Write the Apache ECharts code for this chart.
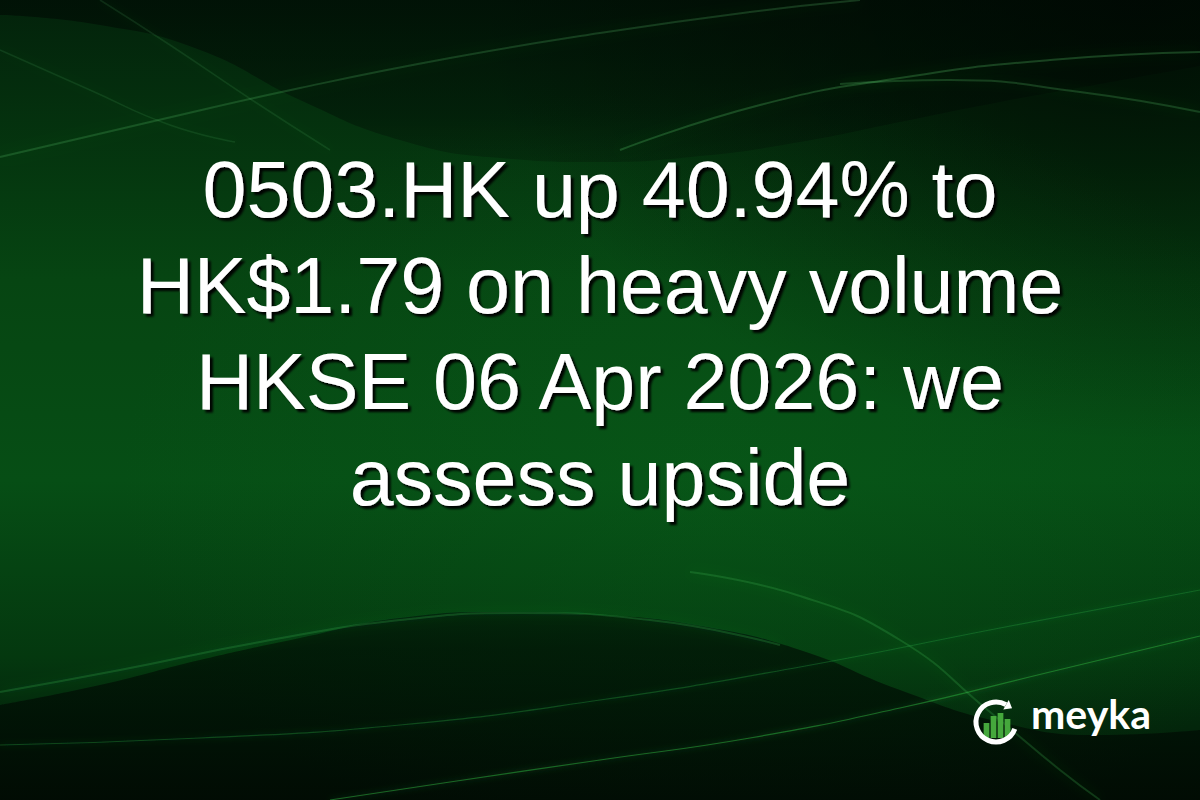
<!DOCTYPE html>
<html>
<head>
<meta charset="utf-8">
<script src="https://cdn.jsdelivr.net/npm/echarts@6/dist/echarts.min.js"></script>
<style>
  html, body { margin: 0; padding: 0; background: #021307; }
  #card { width: 1200px; height: 800px; }
</style>
</head>
<body>
<div id="card"></div>
<script>
// headline, one entry per printed line
const headline = [
  "0503.HK up 40.94% to",
  "HK$1.79 on heavy volume",
  "HKSE 06 Apr 2026: we",
  "assess upside"
];
const brand = "meyka";

// background waves (x in px, y in px from top)
const waveX = [0, 100, 200, 300, 400, 500, 600, 700, 800, 900, 1000, 1100, 1200];
const topShadeY = [15, 25, 50, 100, 140, 158, 162, 156, 142, 122, 102, 84, 66];
const bottomShadeY = [705, 685, 660, 638, 618, 612, 615, 626, 650, 690, 722, 735, 730];

const streakA = [[0, 157], [150, 122], [300, 88], [450, 58], [600, 33], [750, 12], [860, 0]];
const streakB = [[620, 150], [760, 105], [900, 78], [1050, 60], [1200, 52]];
const streakC = [[840, 84], [950, 80], [1080, 92], [1200, 112]];
const streakD = [[330, 800], [450, 782], [600, 760], [750, 738], [900, 708], [1050, 672], [1200, 636]];
const streakE = [[690, 572], [800, 596], [900, 640], [990, 712], [1060, 770], [1100, 800]];
const streakF = [[0, 692], [120, 670], [260, 642], [400, 620], [520, 613], [650, 620], [780, 645]];
const streakG = [[0, 745], [200, 738], [400, 725], [600, 700], [800, 667], [1000, 628], [1200, 590]];
const streakH = [[0, 50], [90, 90], [170, 125], [235, 142]];
const streakI = [[100, 0], [170, 45], [252, 100], [330, 150]];

// logo bars
const logoBars = [15, 22, 25, 19];

function zip(xs, ys) { return xs.map((x, i) => [x, ys[i]]); }

const chart = echarts.init(document.getElementById("card"), null, { renderer: "svg" });

function area(data, origin, color) {
  return {
    type: "line", smooth: 0.5, symbol: "none", silent: true, z: 1,
    data: data, lineStyle: { width: 0 },
    areaStyle: { origin: origin, color: color }
  };
}
function streak(data, color, width, blur) {
  return {
    type: "line", smooth: 0.5, symbol: "none", silent: true, z: 2,
    data: data,
    lineStyle: { color: color, width: width, shadowColor: "rgba(60,190,80,0.7)", shadowBlur: blur }
  };
}

const cx = 996, cy = 722, r = 20;
const endA = -Math.PI / 3;
const ex = cx + r * Math.cos(endA), ey = cy + r * Math.sin(endA);
const dx = -Math.sin(endA), dy = Math.cos(endA);
const nx = Math.cos(endA), ny = Math.sin(endA);

const option = {
  animation: false,
  grid: [
    { left: 0, right: 0, top: 0, bottom: 0 },
    { left: 983, top: 712, width: 28, height: 26 }
  ],
  xAxis: [
    { type: "value", min: 0, max: 1200, show: false, gridIndex: 0 },
    { type: "category", data: logoBars.map((_, i) => i), show: false, gridIndex: 1 }
  ],
  yAxis: [
    { type: "value", min: 0, max: 800, inverse: true, show: false, gridIndex: 0 },
    { type: "value", min: 0, max: 26, show: false, gridIndex: 1 }
  ],
  series: [
    area(zip(waveX, topShadeY), "start", new echarts.graphic.LinearGradient(0, 0, 0, 1, [
      { offset: 0, color: "rgba(0,8,3,0.85)" },
      { offset: 0.7, color: "rgba(0,10,4,0.6)" },
      { offset: 1, color: "rgba(0,12,4,0.35)" }
    ])),
    area(zip(waveX, bottomShadeY), "end", new echarts.graphic.LinearGradient(0, 0, 0, 1, [
      { offset: 0, color: "rgba(0,10,3,0.75)" },
      { offset: 0.2, color: "rgba(0,9,3,0.9)" },
      { offset: 1, color: "rgba(0,8,2,0.95)" }
    ])),
    streak(streakA, "rgba(90,200,110,0.22)", 2, 14),
    streak(streakB, "rgba(90,210,110,0.25)", 2, 14),
    streak(streakC, "rgba(90,210,110,0.22)", 2, 12),
    streak(streakD, "rgba(40,170,60,0.55)", 1.2, 6),
    streak(streakE, "rgba(60,180,80,0.25)", 2, 12),
    streak(streakF, "rgba(50,160,70,0.3)", 2, 12),
    streak(streakG, "rgba(40,160,60,0.35)", 1.2, 6),
    streak(streakH, "rgba(80,180,100,0.15)", 1.5, 10),
    streak(streakI, "rgba(80,180,100,0.15)", 1.5, 10),
    {
      type: "bar", xAxisIndex: 1, yAxisIndex: 1, data: logoBars, silent: true, z: 5,
      barCategoryGap: "18%", itemStyle: { color: "#45a83c" }
    }
  ],
  graphic: [
    {
      type: "rect", z: -10, silent: true, shape: { x: 0, y: 0, width: 1200, height: 800 },
      style: {
        fill: new echarts.graphic.LinearGradient(0, 0, 0, 1, [
          { offset: 0, color: "#03220b" },
          { offset: 0.35, color: "#064512" },
          { offset: 0.6, color: "#064e15" },
          { offset: 0.82, color: "#04380f" },
          { offset: 1, color: "#021307" }
        ])
      }
    },
    {
      type: "rect", z: -9, silent: true, shape: { x: 0, y: 0, width: 1200, height: 800 },
      style: {
        fill: new echarts.graphic.RadialGradient(0.95, 0.0, 0.55, [
          { offset: 0, color: "rgba(0,8,2,0.85)" },
          { offset: 1, color: "rgba(0,8,2,0)" }
        ])
      }
    },
    {
      type: "rect", z: -9, silent: true, shape: { x: 0, y: 0, width: 1200, height: 800 },
      style: {
        fill: new echarts.graphic.RadialGradient(0.6, 0.6, 0.5, [
          { offset: 0, color: "rgba(10,100,28,0.35)" },
          { offset: 1, color: "rgba(10,100,28,0)" }
        ])
      }
    },
    ...headline.map((line, i) => ({
      type: "text", z: 100, silent: true,
      style: {
        text: line, x: 600, y: 189 + i * 96,
        align: "center", verticalAlign: "middle",
        font: '79px "Liberation Sans", Arial, sans-serif',
        fill: "#ffffff",
        textShadowColor: "rgba(0,0,0,0.95)", textShadowOffsetX: 3, textShadowOffsetY: 3, textShadowBlur: 2
      }
    })),
    {
      type: "arc", z: 100, silent: true,
      shape: { cx: cx, cy: cy, r: r, startAngle: Math.PI / 9, endAngle: 2 * Math.PI + endA, clockwise: true },
      style: { stroke: "#ffffff", lineWidth: 5, fill: null }
    },
    {
      type: "polygon", z: 100, silent: true,
      shape: { points: [
        [ex + 7 * dx, ey + 7 * dy],
        [ex + 5.5 * nx, ey + 5.5 * ny],
        [ex - 5.5 * nx, ey - 5.5 * ny]
      ] },
      style: { fill: "#ffffff" }
    },
    {
      type: "text", z: 100, silent: true,
      style: {
        text: brand, x: 1031, y: 734, align: "left", verticalAlign: "bottom",
        font: 'bold 41px Lato, "Open Sans", sans-serif', fill: "#ffffff"
      }
    }
  ]
};
chart.setOption(option);
</script>
</body>
</html>
